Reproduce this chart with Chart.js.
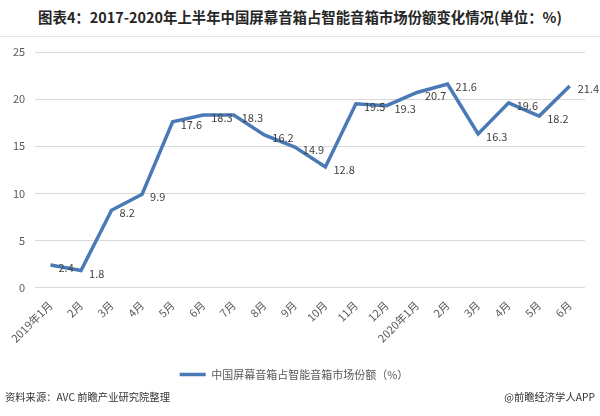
<!DOCTYPE html>
<html>
<head>
<meta charset="utf-8">
<script src="https://cdn.jsdelivr.net/npm/chart.js@4"></script>
<style>
  body { margin: 0; background: #fff; font-family: "Noto Sans CJK SC", sans-serif; }
  #wrap { position: relative; width: 600px; height: 416px; overflow: hidden; }
  #title { position: absolute; left: 0; top: 6px; width: 600px; text-align: center; font-size: 14.4px; font-weight: bold; color: #262626; }
  #sep { position: absolute; left: 0; top: 36px; width: 600px; height: 1px; background: #e6e6e6; }
  #source { position: absolute; left: 5px; top: 389px; font-size: 10.3px; color: #333; }
  #brand { position: absolute; right: 5px; top: 389px; font-size: 10.3px; color: #333; }
  canvas { position: absolute; left: 0; top: 0; }
</style>
</head>
<body>
<div id="wrap">
  <div id="title">图表4：2017-2020年上半年中国屏幕音箱占智能音箱市场份额变化情况(单位：%)</div>
  <div id="sep"></div>
  <canvas id="chart" width="600" height="416"></canvas>
  <div id="source">资料来源：AVC 前瞻产业研究院整理</div>
  <div id="brand">@前瞻经济学人APP</div>
</div>
<script>
const months = [
  '2019年1月', '2月', '3月', '4月', '5月', '6月', '7月', '8月', '9月',
  '10月', '11月', '12月', '2020年1月', '2月', '3月', '4月', '5月', '6月'
]
const shareValues = [2.4, 1.8, 8.2, 9.9, 17.6, 18.3, 18.3, 16.2, 14.9, 12.8, 19.5, 19.3, 20.7, 21.6, 16.3, 19.6, 18.2, 21.4]
const seriesName = '中国屏幕音箱占智能音箱市场份额（%）'

const lineColor = '#4a7ab5'

// value labels sit just right of each point
const pointLabels = {
  id: 'pointLabels',
  afterDatasetsDraw(chart) {
    const ctx = chart.ctx
    const meta = chart.getDatasetMeta(0)
    ctx.save()
    ctx.font = '11px "Noto Sans CJK SC", sans-serif'
    ctx.fillStyle = '#404040'
    ctx.textAlign = 'left'
    ctx.textBaseline = 'middle'
    meta.data.forEach((pt, i) => {
      ctx.fillText(shareValues[i].toFixed(1), pt.x + 8, pt.y + 3)
    })
    ctx.restore()
  }
}

new Chart(document.getElementById('chart'), {
  type: 'line',
  data: {
    labels: months,
    datasets: [{
      label: seriesName,
      data: shareValues,
      borderColor: lineColor,
      backgroundColor: lineColor,
      borderWidth: 3.5,
      pointRadius: 0,
      pointStyle: 'line',
      tension: 0,
      fill: false
    }]
  },
  options: {
    responsive: false,
    animation: false,
    layout: { padding: { top: 52, left: 3, right: 15, bottom: 26 } },
    scales: {
      x: {
        offset: true,
        grid: { display: false },
        border: { display: false },
        ticks: {
          color: '#595959',
          font: { size: 11, family: '"Noto Sans CJK SC", sans-serif' },
          minRotation: 45,
          maxRotation: 45,
          autoSkip: false
        }
      },
      y: {
        min: 0,
        max: 25,
        ticks: { stepSize: 5, color: '#595959', padding: 10, font: { size: 11, family: '"Noto Sans CJK SC", sans-serif' } },
        grid: { color: '#d9d9d9', drawTicks: false },
        border: { display: false }
      }
    },
    plugins: {
      legend: {
        position: 'bottom',
        labels: {
          usePointStyle: true,
          pointStyleWidth: 26,
          color: '#595959',
          padding: 21,
          font: { size: 11, family: '"Noto Sans CJK SC", sans-serif' }
        }
      },
      tooltip: { enabled: false }
    }
  },
  plugins: [pointLabels]
})
</script>
</body>
</html>
